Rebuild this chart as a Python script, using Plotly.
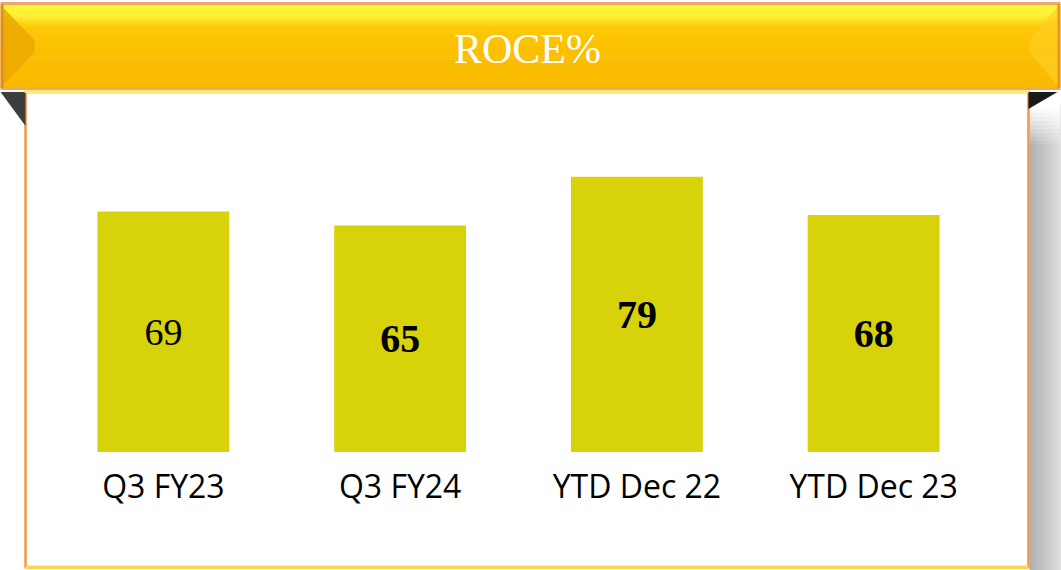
import plotly.graph_objects as go

# ---- data ----
categories = ["Q3 FY23", "Q3 FY24", "YTD Dec 22", "YTD Dec 23"]
roce_values = [69, 65, 79, 68]
label_weights = ["normal", "bold", "bold", "bold"]
label_sizes = [38, 40, 40, 40]
title_text = "ROCE%"

W, H = 1061, 570
# plot area in pixels
PL, PR, PT, PB = 44.5, 992.5, 100, 452


def px(x):
    return (x - PL) / (PR - PL)


def py(y):
    return (PB - y) / (PB - PT)


shapes = []


def rect(x0, y0, x1, y1, fill, line=None, lw=0, layer="below", opacity=1):
    shapes.append(dict(type="rect", xref="paper", yref="paper",
                       x0=px(x0), x1=px(x1), y0=py(y1), y1=py(y0),
                       fillcolor=fill, opacity=opacity,
                       line=dict(color=line or fill, width=lw), layer=layer))


def poly(pts, fill, layer="below", opacity=1):
    d = "M " + " L ".join(f"{px(a)},{py(b)}" for a, b in pts) + " Z"
    shapes.append(dict(type="path", xref="paper", yref="paper", path=d,
                       fillcolor=fill, opacity=opacity, line=dict(width=0), layer=layer))


def lerp(c1, c2, t):
    a = [int(c1[i:i + 2], 16) for i in (1, 3, 5)]
    b = [int(c2[i:i + 2], 16) for i in (1, 3, 5)]
    return "#%02x%02x%02x" % tuple(round(a[i] + (b[i] - a[i]) * t) for i in range(3))


# right shadow (horizontal gradient)
n = 16
for i in range(n):
    x0 = 1030 + i * 31 / n
    rect(x0, 104, x0 + 31 / n + 0.5, 570, lerp("#aeaeae", "#dedede", i / (n - 1)))
# fade top of shadow
for i in range(10):
    y0 = 104 + i * 4
    rect(1030, y0, 1061, y0 + 4.5, "#ffffff", opacity=1 - i / 10)

# white panel with orange border
rect(25, 92, 1029, 567, "#ffffff", line="#f79646", lw=2.5)
rect(25, 566, 1029, 569, "#ffd54f")

# dark fold triangles
poly([(0, 92), (25, 92), (25, 126)], "#3d3d3d")
poly([(1029, 92), (1058, 92), (1029, 109)], "#1a1a1a")

# banner with vertical gradient
rect(0, 2, 1061, 5, "#f2a46a")
stops = [(5, "#fff533"), (14, "#fff033"), (27, "#fcc806"), (50, "#fbbf00"), (87, "#f9b900")]
for (ya, ca), (yb, cb) in zip(stops[:-1], stops[1:]):
    steps = max(1, int((yb - ya) / 2))
    for k in range(steps):
        y0 = ya + (yb - ya) * k / steps
        y1 = ya + (yb - ya) * (k + 1) / steps
        rect(0, y0, 1061, y1 + 0.6, lerp(ca, cb, k / steps))
rect(0, 87, 1061, 90, "#f6a84e")
rect(24, 90, 1029, 93, "#ffe680")
# side bevels
poly([(1, 6), (34, 40), (34, 52), (1, 87)], "#eba800", opacity=0.85)
rect(0, 4, 3, 88, "#e38a2e")
poly([(1059, 6), (1030, 40), (1030, 52), (1059, 87)], "#ffcf22", opacity=0.7)
rect(1058, 4, 1061, 88, "#e9962e")

fig = go.Figure(go.Bar(
    x=categories,
    y=roce_values,
    text=[str(v) for v in roce_values],
    textposition="inside",
    insidetextanchor="middle",
    constraintext="none",
    textangle=0,
    textfont=dict(family="Liberation Serif", size=label_sizes, color="#000000",
                  weight=label_weights),
    marker=dict(color="#d8d20a", line=dict(width=0)),
    hoverinfo="skip",
))

fig.update_layout(
    width=W, height=H,
    margin=dict(l=PL, r=W - PR, t=PT, b=H - PB, pad=0),
    paper_bgcolor="#ffffff",
    plot_bgcolor="rgba(0,0,0,0)",
    showlegend=False,
    bargap=0.443,
    shapes=shapes,
    annotations=[dict(text=title_text, xref="paper", yref="paper",
                      x=px(528), y=py(49), showarrow=False,
                      xanchor="center", yanchor="middle",
                      font=dict(family="Liberation Serif", size=42, color="#ffffff"))],
)
fig.update_xaxes(showgrid=False, showline=False, zeroline=False, ticks="",
                 tickfont=dict(family="Open Sans", size=32, color="#000000"),
                 ticklabelstandoff=13)
fig.update_yaxes(range=[0, (PB - PT) / 3.485], visible=False, showgrid=False, zeroline=False)

fig.write_html("out.html", config={"displayModeBar": False},
               post_script="document.body.style.margin='0';document.body.style.overflow='hidden';")
